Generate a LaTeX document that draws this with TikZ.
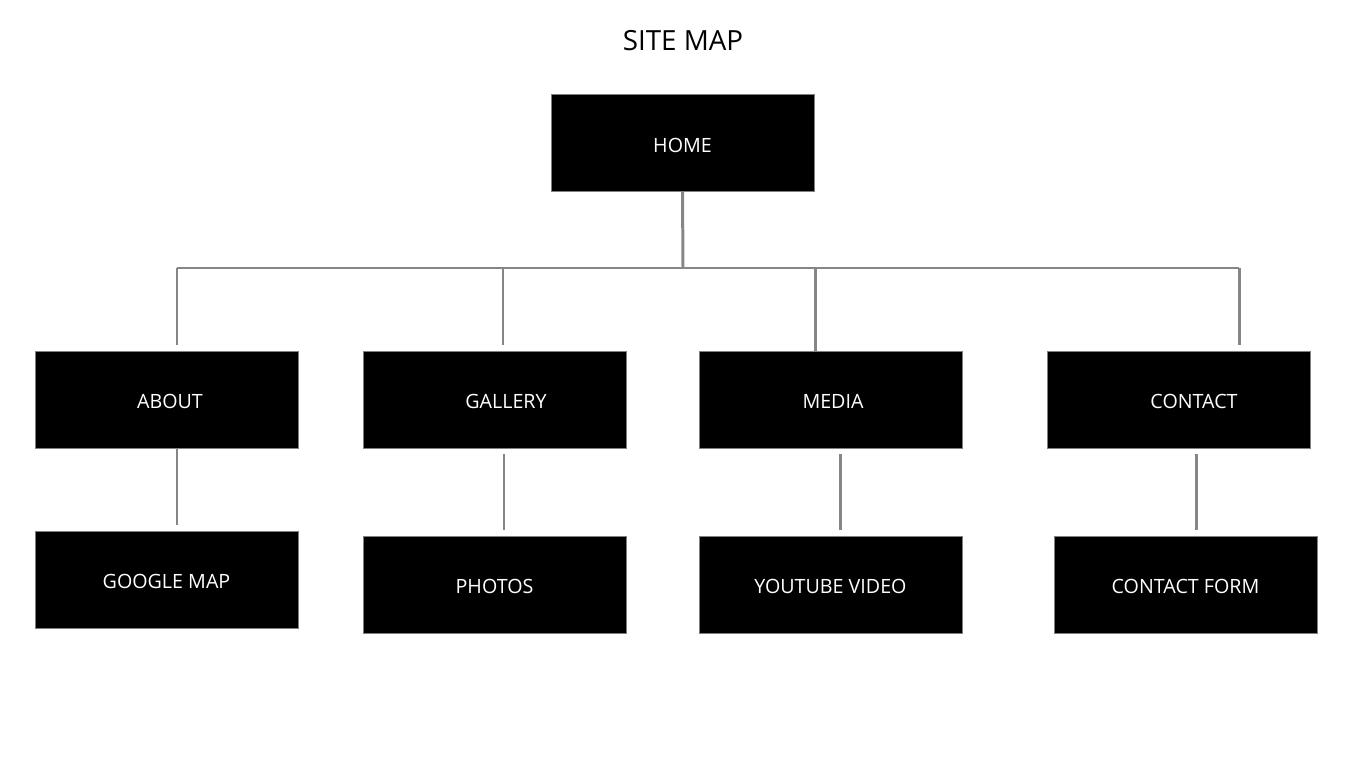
\documentclass[tikz,border=0pt]{standalone}
\usepackage{fontspec}
\setmainfont{Open Sans}

\begin{document}
\begin{tikzpicture}[x=0.02cm, y=-0.02cm,
    page/.style={draw=gray, line width=0.5pt, fill=black, text=white,
        minimum width=263*0.02cm, minimum height=97*0.02cm, inner sep=0pt,
        text height=10.8pt, text depth=0pt,
        font=\fontsize{11.2}{13}\selectfont},
    link/.style={draw=gray!95, line width=1.7pt}]

    % Page size
    \useasboundingbox (0,0) rectangle (1366,760);

    % Title
    \node (title) at (683,41) {\fontsize{15.8}{18}\selectfont SITE MAP};

    % Top page
    \node[page] (home) at (682.5,143) {HOME};

    % Main pages
    \node[page] (about)   at (166.5,399.5)  {\hspace*{0.14cm}ABOUT};
    \node[page] (gallery) at (494.5,399.5)  {\hspace*{0.46cm}GALLERY};
    \node[page] (media)   at (830.5,399.5)  {\hspace*{0.10cm}MEDIA};
    \node[page] (contact) at (1178.5,399.5) {\hspace*{0.62cm}CONTACT};

    % Sub pages
    \node[page] (map)    at (166.5,579.5)  {GOOGLE MAP};
    \node[page] (photos) at (494.5,584.5)  {PHOTOS};
    \node[page] (video)  at (830.5,584.5)  {YOUTUBE VIDEO};
    \node[page] (form)   at (1185.5,584.5) {CONTACT FORM};

    % Branch points on the bar
    \coordinate (bar)  at (683,268);
    \coordinate (barA) at (177,268);
    \coordinate (barG) at (503,268);
    \coordinate (barM) at (815,268);
    \coordinate (barC) at (1239,268);

    % Home down to the bar
    \draw[link] (home.south) -- (bar);
    \draw[link] (barA) -- (barC);

    % Drops to the main pages
    \draw[link] (barA) -- (177,345);
    \draw[link] (barG) -- (503,345);
    \draw[link] (barM) -- (barM |- media.north);
    \draw[link] (barC) -- (1239,345);

    % Main pages down to sub pages
    \coordinate (downA) at (177,525);
    \coordinate (upG)   at (504,454);
    \coordinate (downG) at (504,530);
    \coordinate (upM)   at (840,454);
    \coordinate (downM) at (840,530);
    \coordinate (upC)   at (1196,454);
    \coordinate (downC) at (1196,530);
    \draw[link] (about.south -| downA) -- (downA);
    \draw[link] (upG) -- (downG);
    \draw[link] (upM) -- (downM);
    \draw[link] (upC) -- (downC);

\end{tikzpicture}
\end{document}
